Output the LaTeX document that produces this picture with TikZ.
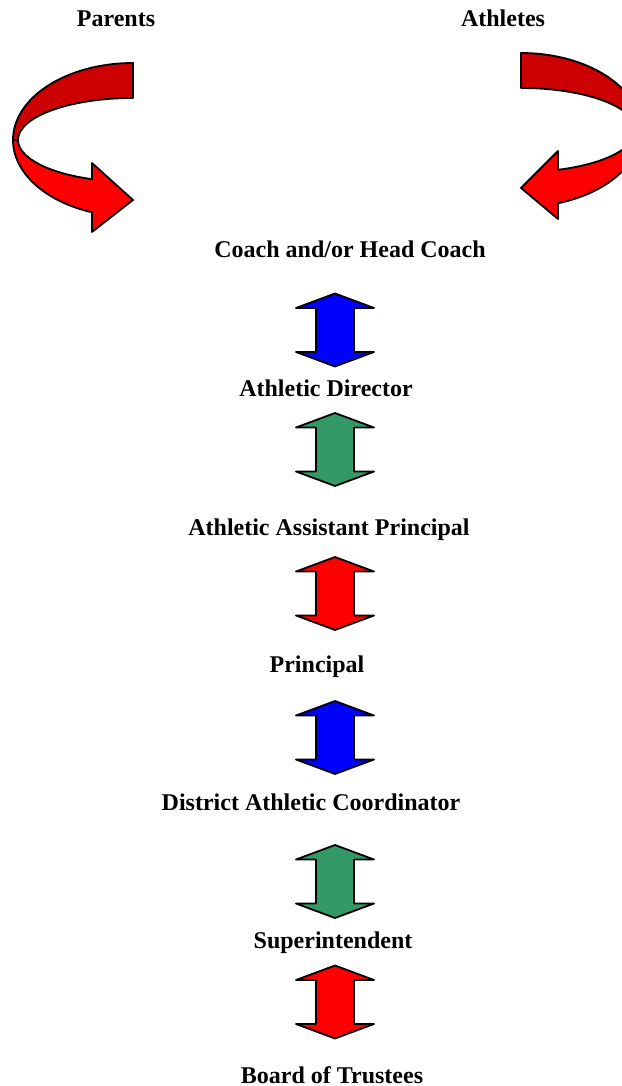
\documentclass[tikz,border=0pt]{standalone}
\usepackage{fontspec}
\setmainfont{Liberation Serif}
\definecolor{darkred}{RGB}{204,0,0}
\definecolor{brightred}{RGB}{255,0,0}
\definecolor{arrblue}{RGB}{0,0,255}
\definecolor{arrgreen}{RGB}{51,153,102}
\tikzset{
  lbl/.style={font=\fontsize{24}{27}\selectfont\bfseries, inner sep=0pt, anchor=base},
  shapeline/.style={draw=black, line width=1.8pt, line join=round},
  pics/dblarrow/.style={code={
    \path[shapeline, fill=#1] (0,36.5) -- (39,22) -- (19,22) -- (19,-22) -- (39,-22)
      -- (0,-36.5) -- (-39,-22) -- (-19,-22) -- (-19,22) -- (-39,22) -- cycle;
  }}
}
\begin{document}
\begin{tikzpicture}[x=1pt,y=1pt]
\useasboundingbox (0,0) rectangle (621,-1086);
% left curved arrow (Parents)
\path[shapeline, fill=darkred] (133,-63) arc[start angle=90, end angle=180, x radius=120, y radius=77]
  -- (18,-140) arc[start angle=180, end angle=90, x radius=115, y radius=42] -- cycle;
\path[shapeline, fill=brightred] (13,-140) arc[start angle=180, end angle=250, x radius=120, y radius=77]
  -- (92,-232) -- (133,-200) -- (92,-163) -- (92,-179.2)
  arc[start angle=249.1, end angle=180, x radius=115, y radius=42] -- cycle;
% right curved arrow (Athletes)
\path[shapeline, fill=darkred] (521,-53) arc[start angle=90, end angle=0, x radius=120, y radius=77]
  -- (636,-130) arc[start angle=0, end angle=90, x radius=115, y radius=42] -- cycle;
\path[shapeline, fill=brightred] (641,-130) arc[start angle=0, end angle=-72.06, x radius=120, y radius=77]
  -- (558,-219) -- (521,-188) -- (558,-151) -- (558,-169.8)
  arc[start angle=-71.2, end angle=0, x radius=115, y radius=42] -- cycle;
% labels
\node[lbl] (parents) at (116,-27) {Parents};
\node[lbl] (athletes) at (503,-27) {Athletes};
\node[lbl] (coach) at (350,-257) {Coach and/or Head Coach};
\node[lbl] (ad) at (326,-396) {Athletic Director};
\node[lbl] (aap) at (329,-535) {Athletic Assistant Principal};
\node[lbl] (principal) at (317,-672) {Principal};
\node[lbl] (dac) at (311,-810) {District Athletic Coordinator};
\node[lbl] (super) at (333,-948) {Superintendent};
\node[lbl] (board) at (332,-1083) {Board of Trustees};
% double arrows
\pic at (335,-330) {dblarrow=arrblue};
\pic at (335,-449.5) {dblarrow=arrgreen};
\pic at (335,-593.5) {dblarrow=brightred};
\pic at (335,-737.5) {dblarrow=arrblue};
\pic at (335,-881.5) {dblarrow=arrgreen};
\pic at (335,-1002) {dblarrow=brightred};
\end{tikzpicture}
\end{document}
